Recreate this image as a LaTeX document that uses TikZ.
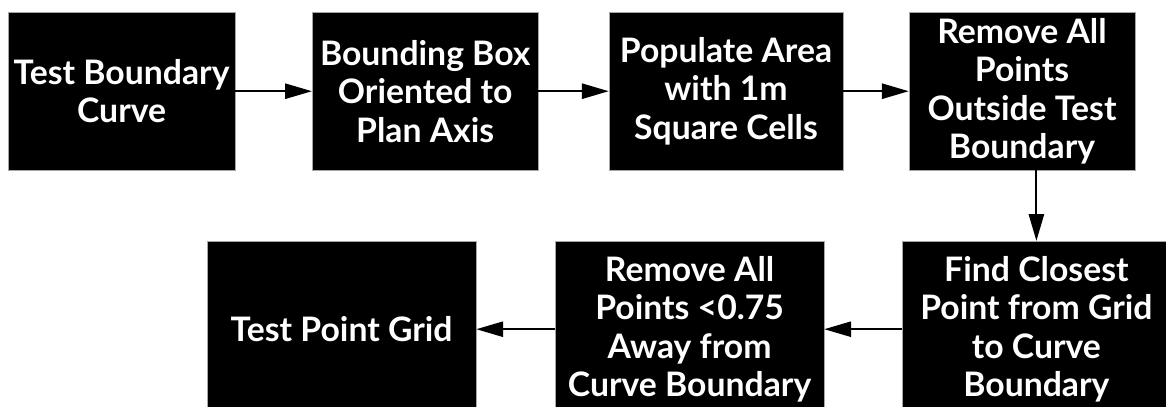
\documentclass[tikz,border=0pt]{standalone}
\usepackage{fontspec}
\setmainfont{Lato}
\usepackage{tikz}
\usetikzlibrary{arrows.meta}

\tikzset{
    stepbox/.style={draw=gray!70, line width=0.4pt, fill=black, text=white,
        font=\fontsize{24}{27.4}\selectfont\bfseries, align=center,
        inner sep=0pt, minimum height=3.95cm},
    flow/.style={line width=1.4pt, -{Triangle[length=0.67cm, width=0.38cm]}}
}

\begin{document}
\begin{tikzpicture}
    % page frame
    \useasboundingbox (0,0) rectangle (29.15,-10.15);

    % draw top row
    \node[stepbox, minimum width=5.68cm] (curve)  at ( 3.04,-2.28) {Test Boundary\\Curve};
    \node[stepbox, minimum width=5.65cm] (bbox)   at (10.63,-2.28) {Bounding Box\\Oriented to\\Plan Axis};
    \node[stepbox, minimum width=5.85cm] (cells)  at (18.15,-2.28) {Populate Area\\with 1m\\Square Cells};
    \node[stepbox, minimum width=5.65cm] (inside) at (25.55,-2.28) {Remove All\\Points\\Outside Test\\Boundary};

    % draw bottom row
    \node[stepbox, minimum width=6.72cm, minimum height=4.4cm] (closest) at (25.91,-8.23) {Find Closest\\Point from Grid\\to Curve\\Boundary};
    \node[stepbox, minimum width=6.72cm, minimum height=4.4cm] (near)    at (17.24,-8.23) {Remove All\\Points <0.75\\Away from\\Curve Boundary};
    \node[stepbox, minimum width=6.72cm, minimum height=4.4cm] (grid)    at ( 8.54,-8.23) {Test Point Grid};

    % draw arrows
    \draw[flow] (curve)  -- (bbox);
    \draw[flow] (bbox)   -- (cells);
    \draw[flow] (cells)  -- (inside);
    \draw[flow] (closest.north |- inside.south) -- (closest.north);
    \draw[flow] (closest) -- (near);
    \draw[flow] (near)    -- (grid);

\end{tikzpicture}
\end{document}
